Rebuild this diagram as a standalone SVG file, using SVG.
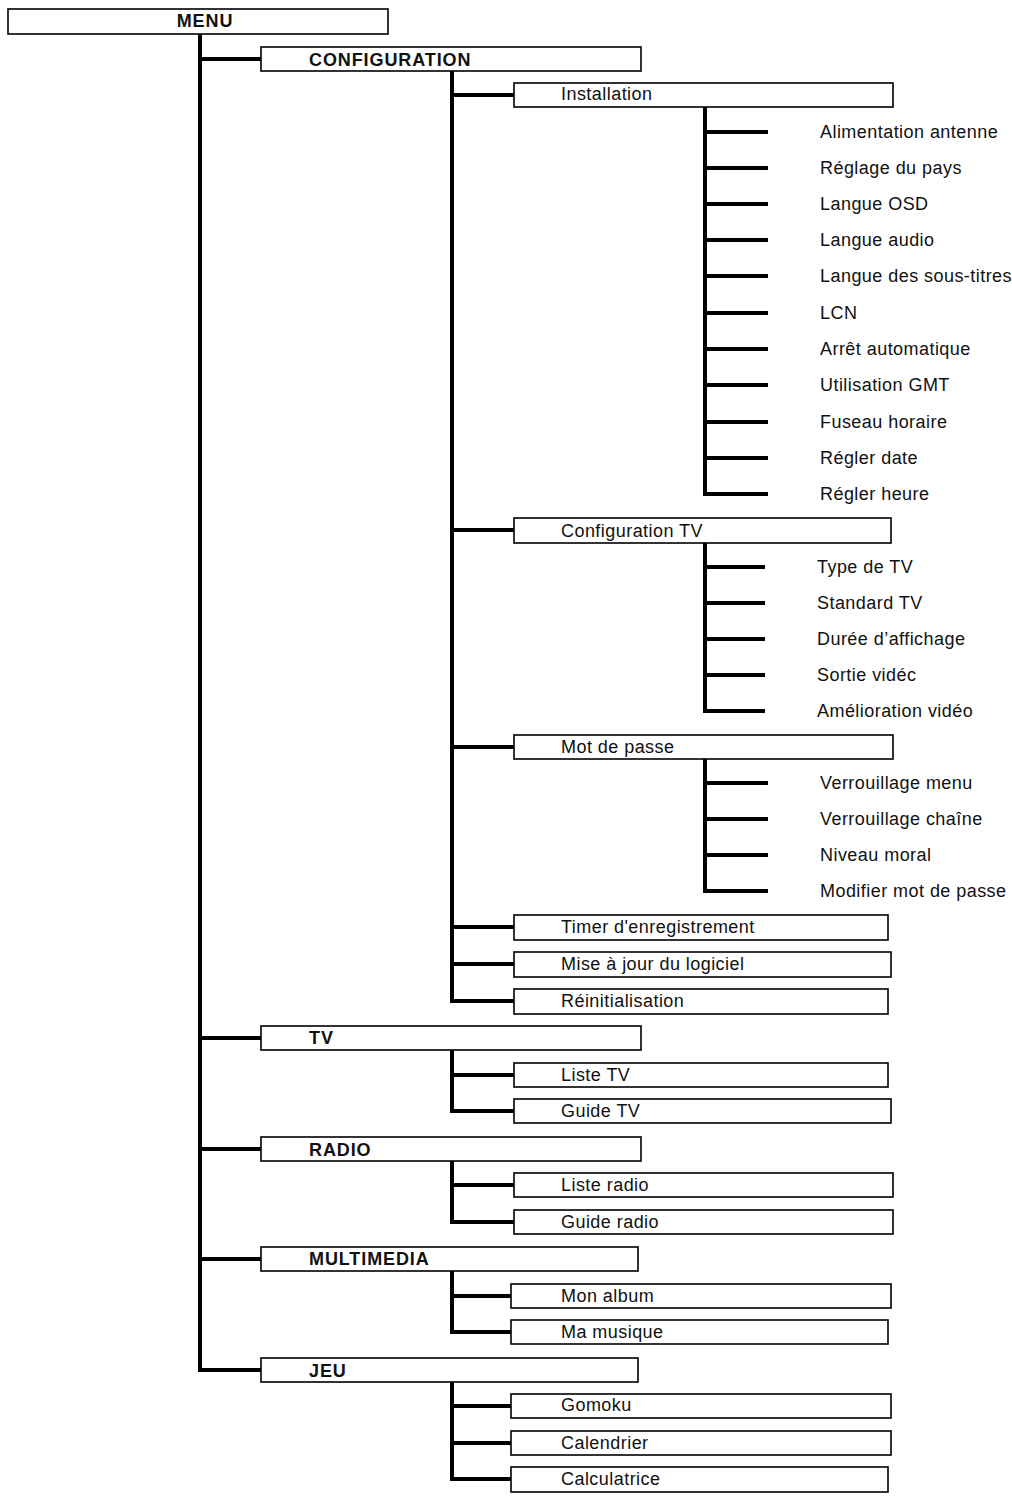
<svg xmlns="http://www.w3.org/2000/svg" width="1012" height="1498" viewBox="0 0 1012 1498">
<style>
.b{fill:#fff;stroke:#000;stroke-width:1.6}
.c line{stroke:#000;stroke-width:4}
text{font-family:"Liberation Sans",Arial,sans-serif;font-size:18px;fill:#111;letter-spacing:0.45px}
.h{font-weight:bold;font-size:18px;letter-spacing:0.9px}
</style>
<rect width="1012" height="1498" fill="#fff"/>
<g class="c">
<line x1="200" y1="34" x2="200" y2="1372"/>
<line x1="198" y1="59" x2="261" y2="59"/><line x1="198" y1="1038" x2="261" y2="1038"/><line x1="198" y1="1149" x2="261" y2="1149"/><line x1="198" y1="1259" x2="261" y2="1259"/><line x1="198" y1="1370" x2="261" y2="1370"/>
<line x1="452" y1="71" x2="452" y2="1003"/>
<line x1="450" y1="95" x2="514" y2="95"/><line x1="450" y1="530" x2="514" y2="530"/><line x1="450" y1="747" x2="514" y2="747"/><line x1="450" y1="927" x2="514" y2="927"/><line x1="450" y1="964" x2="514" y2="964"/><line x1="450" y1="1001" x2="514" y2="1001"/>
<line x1="705" y1="107" x2="705" y2="496"/>
<line x1="703" y1="132" x2="768" y2="132"/><line x1="703" y1="168" x2="768" y2="168"/><line x1="703" y1="204" x2="768" y2="204"/><line x1="703" y1="240" x2="768" y2="240"/><line x1="703" y1="276" x2="768" y2="276"/><line x1="703" y1="313" x2="768" y2="313"/><line x1="703" y1="349" x2="768" y2="349"/><line x1="703" y1="385" x2="768" y2="385"/><line x1="703" y1="422" x2="768" y2="422"/><line x1="703" y1="458" x2="768" y2="458"/><line x1="703" y1="494" x2="768" y2="494"/>
<line x1="705" y1="543" x2="705" y2="713"/>
<line x1="703" y1="567" x2="765" y2="567"/><line x1="703" y1="603" x2="765" y2="603"/><line x1="703" y1="639" x2="765" y2="639"/><line x1="703" y1="675" x2="765" y2="675"/><line x1="703" y1="711" x2="765" y2="711"/>
<line x1="705" y1="759" x2="705" y2="893"/>
<line x1="703" y1="783" x2="768" y2="783"/><line x1="703" y1="819" x2="768" y2="819"/><line x1="703" y1="855" x2="768" y2="855"/><line x1="703" y1="891" x2="768" y2="891"/>
<line x1="452" y1="1050" x2="452" y2="1113"/><line x1="450" y1="1075" x2="514" y2="1075"/><line x1="450" y1="1111" x2="514" y2="1111"/>
<line x1="452" y1="1161" x2="452" y2="1224"/><line x1="450" y1="1185" x2="514" y2="1185"/><line x1="450" y1="1222" x2="514" y2="1222"/>
<line x1="452" y1="1271" x2="452" y2="1334"/><line x1="450" y1="1296" x2="511" y2="1296"/><line x1="450" y1="1332" x2="511" y2="1332"/>
<line x1="452" y1="1382" x2="452" y2="1481"/><line x1="450" y1="1406" x2="511" y2="1406"/><line x1="450" y1="1443" x2="511" y2="1443"/><line x1="450" y1="1479" x2="511" y2="1479"/>
</g>
<g id="menu"><rect class="b" x="8" y="9" width="380" height="25"/><text class="h" x="205" y="27" text-anchor="middle">MENU</text></g>
<g id="configuration"><rect class="b" x="261" y="47" width="380" height="24"/><text class="h" x="309" y="66">CONFIGURATION</text></g>
<g id="installation"><rect class="b" x="514" y="83" width="379" height="24"/><text x="561" y="100">Installation</text></g>
<g id="inst-leaves">
<text x="820" y="138">Alimentation antenne</text><text x="820" y="174">Réglage du pays</text><text x="820" y="210">Langue OSD</text><text x="820" y="246">Langue audio</text><text x="820" y="282">Langue des sous-titres</text><text x="820" y="319">LCN</text><text x="820" y="355">Arrêt automatique</text><text x="820" y="391">Utilisation GMT</text><text x="820" y="428">Fuseau horaire</text><text x="820" y="464">Régler date</text><text x="820" y="500">Régler heure</text>
</g>
<g id="configtv"><rect class="b" x="514" y="518" width="377" height="25"/><text x="561" y="537">Configuration TV</text></g>
<g id="configtv-leaves"><text x="817" y="573">Type de TV</text><text x="817" y="609">Standard TV</text><text x="817" y="645">Durée d’affichage</text><text x="817" y="681">Sortie vidéc</text><text x="817" y="717">Amélioration vidéo</text></g>
<g id="motdepasse"><rect class="b" x="514" y="735" width="379" height="24"/><text x="561" y="753">Mot de passe</text></g>
<g id="mdp-leaves"><text x="820" y="789">Verrouillage menu</text><text x="820" y="825">Verrouillage chaîne</text><text x="820" y="861">Niveau moral</text><text x="820" y="897">Modifier mot de passe</text></g>
<g id="timer"><rect class="b" x="514" y="915" width="374" height="25"/><text x="561" y="933">Timer d'enregistrement</text></g>
<g id="maj"><rect class="b" x="514" y="952" width="377" height="25"/><text x="561" y="970">Mise à jour du logiciel</text></g>
<g id="reinit"><rect class="b" x="514" y="989" width="374" height="25"/><text x="561" y="1007">Réinitialisation</text></g>
<g id="tv"><rect class="b" x="261" y="1026" width="380" height="24"/><text class="h" x="309" y="1044">TV</text></g>
<g id="listetv"><rect class="b" x="514" y="1063" width="374" height="24"/><text x="561" y="1081">Liste TV</text></g>
<g id="guidetv"><rect class="b" x="514" y="1099" width="377" height="24"/><text x="561" y="1117">Guide TV</text></g>
<g id="radio"><rect class="b" x="261" y="1137" width="380" height="24"/><text class="h" x="309" y="1156">RADIO</text></g>
<g id="listeradio"><rect class="b" x="514" y="1173" width="379" height="24"/><text x="561" y="1191">Liste radio</text></g>
<g id="guideradio"><rect class="b" x="514" y="1210" width="379" height="24"/><text x="561" y="1228">Guide radio</text></g>
<g id="multimedia"><rect class="b" x="261" y="1247" width="377" height="24"/><text class="h" x="309" y="1265">MULTIMEDIA</text></g>
<g id="album"><rect class="b" x="511" y="1284" width="380" height="24"/><text x="561" y="1302">Mon album</text></g>
<g id="musique"><rect class="b" x="511" y="1320" width="377" height="24"/><text x="561" y="1338">Ma musique</text></g>
<g id="jeu"><rect class="b" x="261" y="1358" width="377" height="24"/><text class="h" x="309" y="1377">JEU</text></g>
<g id="gomoku"><rect class="b" x="511" y="1394" width="380" height="24"/><text x="561" y="1411">Gomoku</text></g>
<g id="calendrier"><rect class="b" x="511" y="1431" width="380" height="24"/><text x="561" y="1449">Calendrier</text></g>
<g id="calculatrice"><rect class="b" x="511" y="1467" width="377" height="25"/><text x="561" y="1485">Calculatrice</text></g>
</svg>
